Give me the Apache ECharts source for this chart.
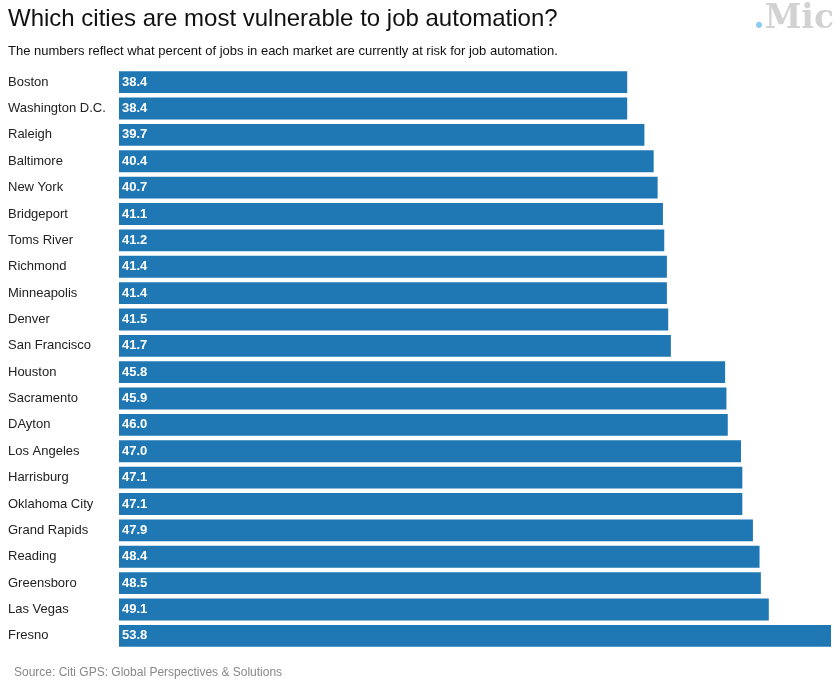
<!DOCTYPE html>
<html><head><meta charset="utf-8">
<script src="https://cdn.jsdelivr.net/npm/echarts@6/dist/echarts.min.js"></script>
<style>html,body{margin:0;padding:0;background:#fff}#c{width:840px;height:679px}</style>
</head><body><div id="c"></div>
<script>
const cities = ["Boston","Washington D.C.","Raleigh","Baltimore","New York","Bridgeport","Toms River","Richmond","Minneapolis","Denver","San Francisco","Houston","Sacramento","DAyton","Los Angeles","Harrisburg","Oklahoma City","Grand Rapids","Reading","Greensboro","Las Vegas","Fresno"];
const riskPercent = [38.4,38.4,39.7,40.4,40.7,41.1,41.2,41.4,41.4,41.5,41.7,45.8,45.9,46.0,47.0,47.1,47.1,47.9,48.4,48.5,49.1,53.8];
const titleText = "Which cities are most vulnerable to job automation?";
const subtitleText = "The numbers reflect what percent of jobs in each market are currently at risk for job automation.";
const sourceText = "Source: Citi GPS: Global Perspectives & Solutions";

const chart = echarts.init(document.getElementById('c'));
const font = '"Liberation Sans", Helvetica, Arial, sans-serif';
const serif = '"DejaVu Serif", "Liberation Serif", serif';
chart.setOption({
  animation: false,
  textStyle: {fontFamily: font},
  title: [
    {text: titleText, left: 3, top: 2, textStyle: {fontSize: 24, fontWeight: 'normal', color: '#111', fontFamily: font}},
    {text: subtitleText, left: 3, top: 40, textStyle: {fontSize: 13, fontWeight: 'normal', color: '#111', fontFamily: font}},
    {text: sourceText, left: 9, top: 662, textStyle: {fontSize: 12, fontWeight: 'normal', color: '#888', fontFamily: font}}
  ],
  graphic: [
    {type: 'text', right: 6, top: 3, style: {
      rich: {
        d: {fill: '#8ecbf0', fontFamily: serif, fontWeight: 'bold', fontSize: 33},
        m: {fill: '#d2d2d2', fontFamily: serif, fontWeight: 'bold', fontSize: 33}
      },
      text: '{d|.}{m|Mic}'}}
  ],
  grid: {left: 119, right: 9, top: 69, bottom: 30, containLabel: false},
  xAxis: {type: 'value', min: 0, max: 53.8, show: false},
  yAxis: {
    type: 'category', data: cities, inverse: true,
    axisLine: {show: false}, axisTick: {show: false},
    axisLabel: {align: 'left', margin: 111, fontSize: 13, color: '#222', fontFamily: font}
  },
  series: [{
    type: 'bar', data: riskPercent, barCategoryGap: '17%',
    itemStyle: {color: '#1f77b4'},
    label: {show: true, position: 'insideLeft', distance: 3, color: '#fff', fontWeight: 'bold', fontSize: 13, fontFamily: font, formatter: p => p.value.toFixed(1)}
  }]
});
</script></body></html>
